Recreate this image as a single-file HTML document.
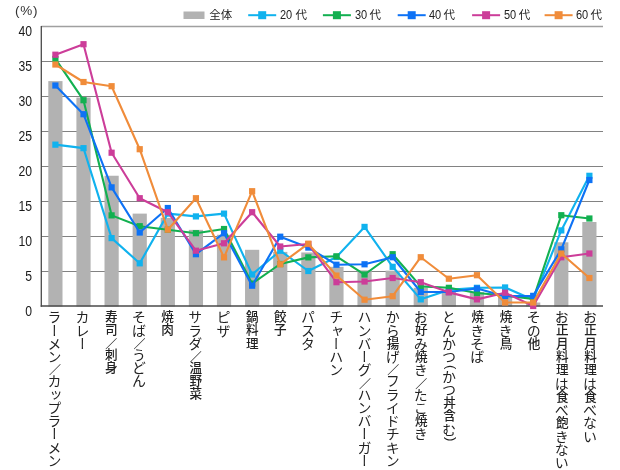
<!DOCTYPE html>
<html lang="ja"><head><meta charset="utf-8"><title>chart</title>
<style>
html,body{margin:0;padding:0;background:#fff;}
body{width:620px;height:470px;position:relative;overflow:hidden;font-family:"Liberation Sans","Noto Sans CJK JP",sans-serif;color:#222;}
svg{position:absolute;left:0;top:0;}
.yl{position:absolute;width:32.1px;text-align:right;left:0;font-size:14px;line-height:14px;height:14px;color:#1a1a1a;transform:scaleX(0.87);transform-origin:100% 50%;}
.unit{position:absolute;left:15px;top:4.4px;font-size:13.5px;line-height:14px;letter-spacing:0.8px;color:#333;}
.xl{position:absolute;top:310.4px;width:14px;letter-spacing:-0.75px;writing-mode:vertical-rl;-webkit-writing-mode:vertical-rl;text-orientation:mixed;font-family:"Liberation Sans","Noto Sans CJK JP",sans-serif;font-weight:400;font-size:14px;line-height:14px;white-space:nowrap;color:#222;}
.xl .k{font-size:12.6px;letter-spacing:0.65px;font-weight:500;}
.xl .p{font-size:13px;letter-spacing:2px;position:relative;left:3px;font-weight:300;}
.lg .d{display:inline-block;font-size:12.5px;transform:scaleX(0.88);transform-origin:0 50%;}
.lg .j{position:absolute;top:0;font-size:11.5px;}
.lg{position:absolute;top:8px;font-size:11.5px;line-height:14px;font-weight:400;word-spacing:-1.5px;color:#222;white-space:nowrap;}
</style></head><body>

<svg width="620" height="470" viewBox="0 0 620 470">
<line x1="41.2" y1="271.5" x2="603.0" y2="271.5" stroke="#828282" stroke-width="1"/>
<line x1="41.2" y1="236.5" x2="603.0" y2="236.5" stroke="#828282" stroke-width="1"/>
<line x1="41.2" y1="201.5" x2="603.0" y2="201.5" stroke="#828282" stroke-width="1"/>
<line x1="41.2" y1="166.5" x2="603.0" y2="166.5" stroke="#828282" stroke-width="1"/>
<line x1="41.2" y1="131.5" x2="603.0" y2="131.5" stroke="#828282" stroke-width="1"/>
<line x1="41.2" y1="96.5" x2="603.0" y2="96.5" stroke="#828282" stroke-width="1"/>
<line x1="41.2" y1="61.5" x2="603.0" y2="61.5" stroke="#828282" stroke-width="1"/>
<line x1="41.2" y1="26.5" x2="603.0" y2="26.5" stroke="#a0a0a0" stroke-width="1.7"/>
<rect x="48.30" y="81.10" width="14.2" height="225.40" fill="#b2b2b2"/>
<rect x="76.41" y="97.55" width="14.2" height="208.95" fill="#b2b2b2"/>
<rect x="104.51" y="175.74" width="14.2" height="130.76" fill="#b2b2b2"/>
<rect x="132.62" y="213.61" width="14.2" height="92.89" fill="#b2b2b2"/>
<rect x="160.72" y="217.81" width="14.2" height="88.69" fill="#b2b2b2"/>
<rect x="188.83" y="229.85" width="14.2" height="76.65" fill="#b2b2b2"/>
<rect x="216.93" y="234.75" width="14.2" height="71.75" fill="#b2b2b2"/>
<rect x="245.04" y="249.80" width="14.2" height="56.70" fill="#b2b2b2"/>
<rect x="273.14" y="251.90" width="14.2" height="54.60" fill="#b2b2b2"/>
<rect x="301.24" y="252.46" width="14.2" height="54.04" fill="#b2b2b2"/>
<rect x="329.35" y="266.81" width="14.2" height="39.69" fill="#b2b2b2"/>
<rect x="357.45" y="270.31" width="14.2" height="36.19" fill="#b2b2b2"/>
<rect x="385.56" y="270.66" width="14.2" height="35.84" fill="#b2b2b2"/>
<rect x="413.66" y="287.81" width="14.2" height="18.69" fill="#b2b2b2"/>
<rect x="441.77" y="291.10" width="14.2" height="15.40" fill="#b2b2b2"/>
<rect x="469.87" y="292.01" width="14.2" height="14.49" fill="#b2b2b2"/>
<rect x="497.98" y="294.25" width="14.2" height="12.25" fill="#b2b2b2"/>
<rect x="526.09" y="302.51" width="14.2" height="3.99" fill="#b2b2b2"/>
<rect x="554.19" y="242.31" width="14.2" height="64.19" fill="#b2b2b2"/>
<rect x="582.29" y="222.01" width="14.2" height="84.49" fill="#b2b2b2"/>
<line x1="41.300000000000004" y1="26.0" x2="41.300000000000004" y2="306.7" stroke="#4a4a4a" stroke-width="1.3"/>
<line x1="40.7" y1="305.95" x2="603.0" y2="305.95" stroke="#4a4a4a" stroke-width="1.5"/>
<polyline points="55.40,144.66 83.50,148.16 111.61,238.11 139.72,263.31 167.82,213.61 195.93,216.41 224.03,213.61 252.14,274.51 280.24,250.71 308.34,271.01 336.45,257.01 364.56,226.91 392.66,266.81 420.76,299.36 448.87,289.91 476.97,287.81 505.08,287.46 533.19,299.71 561.29,230.41 589.39,175.81" fill="none" stroke="#10b2ee" stroke-width="2.1" stroke-linejoin="round"/>
<rect x="52.30" y="141.56" width="6.2" height="6.2" fill="#10b2ee"/>
<rect x="80.41" y="145.06" width="6.2" height="6.2" fill="#10b2ee"/>
<rect x="108.51" y="235.01" width="6.2" height="6.2" fill="#10b2ee"/>
<rect x="136.62" y="260.21" width="6.2" height="6.2" fill="#10b2ee"/>
<rect x="164.72" y="210.51" width="6.2" height="6.2" fill="#10b2ee"/>
<rect x="192.83" y="213.31" width="6.2" height="6.2" fill="#10b2ee"/>
<rect x="220.93" y="210.51" width="6.2" height="6.2" fill="#10b2ee"/>
<rect x="249.04" y="271.41" width="6.2" height="6.2" fill="#10b2ee"/>
<rect x="277.14" y="247.61" width="6.2" height="6.2" fill="#10b2ee"/>
<rect x="305.24" y="267.91" width="6.2" height="6.2" fill="#10b2ee"/>
<rect x="333.35" y="253.91" width="6.2" height="6.2" fill="#10b2ee"/>
<rect x="361.45" y="223.81" width="6.2" height="6.2" fill="#10b2ee"/>
<rect x="389.56" y="263.71" width="6.2" height="6.2" fill="#10b2ee"/>
<rect x="417.66" y="296.26" width="6.2" height="6.2" fill="#10b2ee"/>
<rect x="445.77" y="286.81" width="6.2" height="6.2" fill="#10b2ee"/>
<rect x="473.87" y="284.71" width="6.2" height="6.2" fill="#10b2ee"/>
<rect x="501.98" y="284.36" width="6.2" height="6.2" fill="#10b2ee"/>
<rect x="530.09" y="296.61" width="6.2" height="6.2" fill="#10b2ee"/>
<rect x="558.19" y="227.31" width="6.2" height="6.2" fill="#10b2ee"/>
<rect x="586.29" y="172.71" width="6.2" height="6.2" fill="#10b2ee"/>
<polyline points="55.40,58.91 83.50,100.21 111.61,215.36 139.72,226.21 167.82,229.71 195.93,233.21 224.03,229.01 252.14,283.61 280.24,264.01 308.34,257.36 336.45,256.31 364.56,274.51 392.66,254.21 420.76,286.41 448.87,287.81 476.97,293.06 505.08,295.51 533.19,299.01 561.29,215.22 589.39,218.51" fill="none" stroke="#12b050" stroke-width="2.1" stroke-linejoin="round"/>
<rect x="52.30" y="55.81" width="6.2" height="6.2" fill="#12b050"/>
<rect x="80.41" y="97.11" width="6.2" height="6.2" fill="#12b050"/>
<rect x="108.51" y="212.26" width="6.2" height="6.2" fill="#12b050"/>
<rect x="136.62" y="223.11" width="6.2" height="6.2" fill="#12b050"/>
<rect x="164.72" y="226.61" width="6.2" height="6.2" fill="#12b050"/>
<rect x="192.83" y="230.11" width="6.2" height="6.2" fill="#12b050"/>
<rect x="220.93" y="225.91" width="6.2" height="6.2" fill="#12b050"/>
<rect x="249.04" y="280.51" width="6.2" height="6.2" fill="#12b050"/>
<rect x="277.14" y="260.91" width="6.2" height="6.2" fill="#12b050"/>
<rect x="305.24" y="254.26" width="6.2" height="6.2" fill="#12b050"/>
<rect x="333.35" y="253.21" width="6.2" height="6.2" fill="#12b050"/>
<rect x="361.45" y="271.41" width="6.2" height="6.2" fill="#12b050"/>
<rect x="389.56" y="251.11" width="6.2" height="6.2" fill="#12b050"/>
<rect x="417.66" y="283.31" width="6.2" height="6.2" fill="#12b050"/>
<rect x="445.77" y="284.71" width="6.2" height="6.2" fill="#12b050"/>
<rect x="473.87" y="289.96" width="6.2" height="6.2" fill="#12b050"/>
<rect x="501.98" y="292.41" width="6.2" height="6.2" fill="#12b050"/>
<rect x="530.09" y="295.91" width="6.2" height="6.2" fill="#12b050"/>
<rect x="558.19" y="212.12" width="6.2" height="6.2" fill="#12b050"/>
<rect x="586.29" y="215.41" width="6.2" height="6.2" fill="#12b050"/>
<polyline points="55.40,85.51 83.50,114.21 111.61,187.36 139.72,232.51 167.82,208.01 195.93,254.21 224.03,233.21 252.14,285.71 280.24,236.71 308.34,247.56 336.45,264.71 364.56,264.29 392.66,257.22 420.76,292.01 448.87,292.01 476.97,288.51 505.08,296.21 533.19,295.86 561.29,249.31 589.39,180.01" fill="none" stroke="#0e72f5" stroke-width="2.1" stroke-linejoin="round"/>
<rect x="52.30" y="82.41" width="6.2" height="6.2" fill="#0e72f5"/>
<rect x="80.41" y="111.11" width="6.2" height="6.2" fill="#0e72f5"/>
<rect x="108.51" y="184.26" width="6.2" height="6.2" fill="#0e72f5"/>
<rect x="136.62" y="229.41" width="6.2" height="6.2" fill="#0e72f5"/>
<rect x="164.72" y="204.91" width="6.2" height="6.2" fill="#0e72f5"/>
<rect x="192.83" y="251.11" width="6.2" height="6.2" fill="#0e72f5"/>
<rect x="220.93" y="230.11" width="6.2" height="6.2" fill="#0e72f5"/>
<rect x="249.04" y="282.61" width="6.2" height="6.2" fill="#0e72f5"/>
<rect x="277.14" y="233.61" width="6.2" height="6.2" fill="#0e72f5"/>
<rect x="305.24" y="244.46" width="6.2" height="6.2" fill="#0e72f5"/>
<rect x="333.35" y="261.61" width="6.2" height="6.2" fill="#0e72f5"/>
<rect x="361.45" y="261.19" width="6.2" height="6.2" fill="#0e72f5"/>
<rect x="389.56" y="254.12" width="6.2" height="6.2" fill="#0e72f5"/>
<rect x="417.66" y="288.91" width="6.2" height="6.2" fill="#0e72f5"/>
<rect x="445.77" y="288.91" width="6.2" height="6.2" fill="#0e72f5"/>
<rect x="473.87" y="285.41" width="6.2" height="6.2" fill="#0e72f5"/>
<rect x="501.98" y="293.11" width="6.2" height="6.2" fill="#0e72f5"/>
<rect x="530.09" y="292.76" width="6.2" height="6.2" fill="#0e72f5"/>
<rect x="558.19" y="246.21" width="6.2" height="6.2" fill="#0e72f5"/>
<rect x="586.29" y="176.91" width="6.2" height="6.2" fill="#0e72f5"/>
<polyline points="55.40,54.71 83.50,44.21 111.61,152.71 139.72,198.21 167.82,212.21 195.93,250.71 224.03,243.29 252.14,212.21 280.24,246.51 308.34,244.06 336.45,282.21 364.56,281.51 392.66,278.01 420.76,282.21 448.87,292.36 476.97,299.36 505.08,292.71 533.19,306.01 561.29,257.29 589.39,253.51" fill="none" stroke="#cc3d99" stroke-width="2.1" stroke-linejoin="round"/>
<rect x="52.30" y="51.61" width="6.2" height="6.2" fill="#cc3d99"/>
<rect x="80.41" y="41.11" width="6.2" height="6.2" fill="#cc3d99"/>
<rect x="108.51" y="149.61" width="6.2" height="6.2" fill="#cc3d99"/>
<rect x="136.62" y="195.11" width="6.2" height="6.2" fill="#cc3d99"/>
<rect x="164.72" y="209.11" width="6.2" height="6.2" fill="#cc3d99"/>
<rect x="192.83" y="247.61" width="6.2" height="6.2" fill="#cc3d99"/>
<rect x="220.93" y="240.19" width="6.2" height="6.2" fill="#cc3d99"/>
<rect x="249.04" y="209.11" width="6.2" height="6.2" fill="#cc3d99"/>
<rect x="277.14" y="243.41" width="6.2" height="6.2" fill="#cc3d99"/>
<rect x="305.24" y="240.96" width="6.2" height="6.2" fill="#cc3d99"/>
<rect x="333.35" y="279.11" width="6.2" height="6.2" fill="#cc3d99"/>
<rect x="361.45" y="278.41" width="6.2" height="6.2" fill="#cc3d99"/>
<rect x="389.56" y="274.91" width="6.2" height="6.2" fill="#cc3d99"/>
<rect x="417.66" y="279.11" width="6.2" height="6.2" fill="#cc3d99"/>
<rect x="445.77" y="289.26" width="6.2" height="6.2" fill="#cc3d99"/>
<rect x="473.87" y="296.26" width="6.2" height="6.2" fill="#cc3d99"/>
<rect x="501.98" y="289.61" width="6.2" height="6.2" fill="#cc3d99"/>
<rect x="530.09" y="302.91" width="6.2" height="6.2" fill="#cc3d99"/>
<rect x="558.19" y="254.19" width="6.2" height="6.2" fill="#cc3d99"/>
<rect x="586.29" y="250.41" width="6.2" height="6.2" fill="#cc3d99"/>
<polyline points="55.40,64.51 83.50,82.01 111.61,86.21 139.72,149.21 167.82,229.71 195.93,198.21 224.03,257.36 252.14,191.21 280.24,264.29 308.34,243.71 336.45,275.56 364.56,299.71 392.66,296.21 420.76,257.22 448.87,278.71 476.97,275.21 505.08,302.51 533.19,302.51 561.29,253.51 589.39,278.01" fill="none" stroke="#f08c3a" stroke-width="2.1" stroke-linejoin="round"/>
<rect x="52.30" y="61.41" width="6.2" height="6.2" fill="#f08c3a"/>
<rect x="80.41" y="78.91" width="6.2" height="6.2" fill="#f08c3a"/>
<rect x="108.51" y="83.11" width="6.2" height="6.2" fill="#f08c3a"/>
<rect x="136.62" y="146.11" width="6.2" height="6.2" fill="#f08c3a"/>
<rect x="164.72" y="226.61" width="6.2" height="6.2" fill="#f08c3a"/>
<rect x="192.83" y="195.11" width="6.2" height="6.2" fill="#f08c3a"/>
<rect x="220.93" y="254.26" width="6.2" height="6.2" fill="#f08c3a"/>
<rect x="249.04" y="188.11" width="6.2" height="6.2" fill="#f08c3a"/>
<rect x="277.14" y="261.19" width="6.2" height="6.2" fill="#f08c3a"/>
<rect x="305.24" y="240.61" width="6.2" height="6.2" fill="#f08c3a"/>
<rect x="333.35" y="272.46" width="6.2" height="6.2" fill="#f08c3a"/>
<rect x="361.45" y="296.61" width="6.2" height="6.2" fill="#f08c3a"/>
<rect x="389.56" y="293.11" width="6.2" height="6.2" fill="#f08c3a"/>
<rect x="417.66" y="254.12" width="6.2" height="6.2" fill="#f08c3a"/>
<rect x="445.77" y="275.61" width="6.2" height="6.2" fill="#f08c3a"/>
<rect x="473.87" y="272.11" width="6.2" height="6.2" fill="#f08c3a"/>
<rect x="501.98" y="299.41" width="6.2" height="6.2" fill="#f08c3a"/>
<rect x="530.09" y="299.41" width="6.2" height="6.2" fill="#f08c3a"/>
<rect x="558.19" y="250.41" width="6.2" height="6.2" fill="#f08c3a"/>
<rect x="586.29" y="274.91" width="6.2" height="6.2" fill="#f08c3a"/>
<rect x="183.5" y="11.5" width="21" height="7.5" fill="#b2b2b2"/>
<line x1="248.2" y1="15.2" x2="276.2" y2="15.2" stroke="#10b2ee" stroke-width="2"/>
<rect x="258.2" y="11.2" width="8" height="8" fill="#10b2ee"/>
<line x1="322.9" y1="15.2" x2="350.9" y2="15.2" stroke="#12b050" stroke-width="2"/>
<rect x="332.9" y="11.2" width="8" height="8" fill="#12b050"/>
<line x1="397.7" y1="15.2" x2="425.7" y2="15.2" stroke="#0e72f5" stroke-width="2"/>
<rect x="407.7" y="11.2" width="8" height="8" fill="#0e72f5"/>
<line x1="472.1" y1="15.2" x2="500.1" y2="15.2" stroke="#cc3d99" stroke-width="2"/>
<rect x="482.1" y="11.2" width="8" height="8" fill="#cc3d99"/>
<line x1="544.6" y1="15.2" x2="572.6" y2="15.2" stroke="#f08c3a" stroke-width="2"/>
<rect x="554.6" y="11.2" width="8" height="8" fill="#f08c3a"/>
</svg>
<div class="yl" style="top:304.0px">0</div>
<div class="yl" style="top:269.0px">5</div>
<div class="yl" style="top:234.0px">10</div>
<div class="yl" style="top:199.0px">15</div>
<div class="yl" style="top:164.0px">20</div>
<div class="yl" style="top:129.0px">25</div>
<div class="yl" style="top:94.0px">30</div>
<div class="yl" style="top:59.0px">35</div>
<div class="yl" style="top:24.0px">40</div>
<div class="unit">(%)</div>
<div class="lg" style="left:209.3px">全体</div>
<div class="lg" style="left:280.4px"><span class="d">20</span> <span class="j" style="left:15.0px">代</span></div>
<div class="lg" style="left:354.6px"><span class="d">30</span> <span class="j" style="left:15.0px">代</span></div>
<div class="lg" style="left:428.6px"><span class="d">40</span> <span class="j" style="left:15.0px">代</span></div>
<div class="lg" style="left:503.8px"><span class="d">50</span> <span class="j" style="left:15.0px">代</span></div>
<div class="lg" style="left:575.5px"><span class="d">60</span> <span class="j" style="left:15.0px">代</span></div>
<div class="xl" style="left:46.40px">ラーメン<span style="font-size:12px;letter-spacing:-1px;position:relative;top:1px">／</span>カップラーメン</div>
<div class="xl" style="left:74.59px">カレー</div>
<div class="xl" style="left:102.78px"><span class="k">寿司</span><span style="font-size:12px;letter-spacing:-1px;position:relative;top:1px">／</span><span class="k">刺身</span></div>
<div class="xl" style="left:130.97px">そば<span style="font-size:12px;letter-spacing:-1px;position:relative;top:1px">／</span>うどん</div>
<div class="xl" style="left:159.16px"><span class="k">焼肉</span></div>
<div class="xl" style="left:187.35px">サラダ<span style="font-size:12px;letter-spacing:-1px;position:relative;top:1px">／</span><span class="k">温野菜</span></div>
<div class="xl" style="left:215.54px">ピザ</div>
<div class="xl" style="left:243.73px"><span class="k">鍋料理</span></div>
<div class="xl" style="left:271.92px"><span class="k">餃子</span></div>
<div class="xl" style="left:300.11px">パスタ</div>
<div class="xl" style="left:328.30px">チャーハン</div>
<div class="xl" style="left:356.49px">ハンバーグ<span style="font-size:12px;letter-spacing:-1px;position:relative;top:1px">／</span>ハンバーガー</div>
<div class="xl" style="left:384.68px">から<span class="k">揚</span>げ<span style="font-size:12px;letter-spacing:-1px;position:relative;top:1px">／</span>フライドチキン</div>
<div class="xl" style="left:412.87px">お<span class="k">好</span>み<span class="k">焼</span>き<span style="font-size:12px;letter-spacing:-1px;position:relative;top:1px">／</span>たこ<span class="k">焼</span>き</div>
<div class="xl" style="left:441.06px">とんかつ<span class="p" style="top:2px">(</span>かつ<span class="k">丼含</span>む<span class="p" style="top:1.5px">)</span></div>
<div class="xl" style="left:469.25px"><span class="k">焼</span>きそば</div>
<div class="xl" style="left:497.44px"><span class="k">焼</span>き<span class="k">鳥</span></div>
<div class="xl" style="left:525.63px">その<span class="k">他</span></div>
<div class="xl" style="left:553.82px">お<span class="k">正月料理</span>は<span class="k">食</span>べ<span class="k">飽</span>きない</div>
<div class="xl" style="left:582.01px">お<span class="k">正月料理</span>は<span class="k">食</span>べない</div>
</body></html>
